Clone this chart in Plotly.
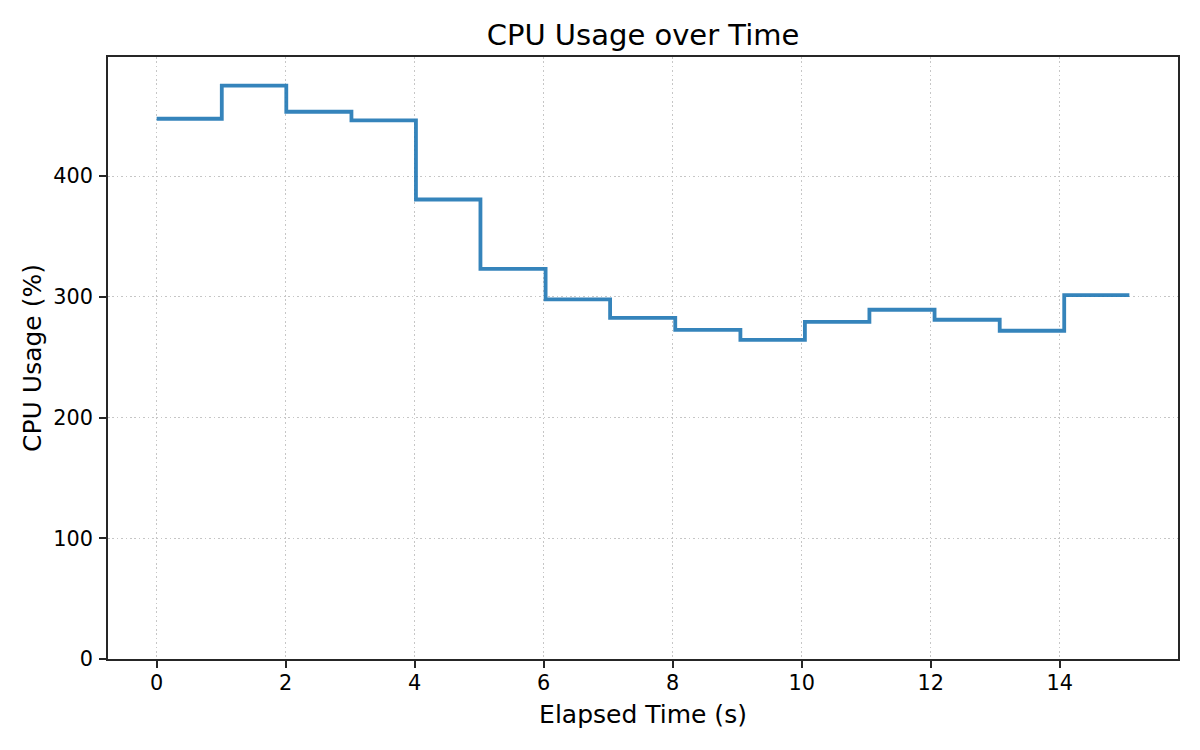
import plotly.graph_objects as go

# elapsed time of each sample (s) and the CPU usage read at that sample (%)
elapsed_s = [0.0, 1.01, 2.01, 3.02, 4.02, 5.02, 6.03, 7.03, 8.04, 9.05,
             10.05, 11.05, 12.06, 13.07, 14.07, 15.08]
cpu_pct = [447.5, 474.9, 453.3, 446.1, 380.6, 323.2, 297.8, 282.6, 272.7, 264.4,
           279.3, 289.3, 281.0, 271.9, 301.4, 301.4]

x_ticks = [0, 2, 4, 6, 8, 10, 12, 14]
y_ticks = [0, 100, 200, 300, 400]

FONT = "DejaVu Sans"
AXIS_COLOR = "#262626"

# matplotlib-like padding: 5% on x, y from 0 up to max*1.05
x_pad = 0.05 * (max(elapsed_s) - min(elapsed_s))
x_range = [min(elapsed_s) - x_pad, max(elapsed_s) + x_pad]
y_range = [0, max(cpu_pct) * 1.05]

trace = go.Scatter(
    x=elapsed_s,
    y=cpu_pct,
    mode='lines',
    line=dict(shape='hv', color='rgba(31,119,180,0.9)', width=3.8),
    showlegend=False
)

fig = go.Figure(data=[trace])

axis_common = dict(
    showline=True,
    linecolor=AXIS_COLOR,
    linewidth=1.6,
    mirror=True,
    ticks='outside',
    ticklen=7,
    tickwidth=1.6,
    tickcolor=AXIS_COLOR,
    tickfont=dict(family=FONT, size=20.8, color='black'),
    showgrid=True,
    gridcolor='#c6c6c6',
    gridwidth=1.3,
    griddash='1.6px,2.8px',
    zeroline=False,
)

# the page body adds an 8px offset, so margins are trimmed to compensate
fig.update_layout(
    width=1200,
    height=750,
    paper_bgcolor='white',
    plot_bgcolor='white',
    margin=dict(l=100, r=30, t=49, b=99),
    title=dict(
        text="CPU Usage over Time",
        font=dict(family=FONT, size=29, color='black'),
        x=635 / 1200,
        xanchor='center',
        y=1 - 27 / 750,
        yanchor='middle',
        yref='container',
    ),
    xaxis=dict(
        axis_common,
        range=x_range,
        tickvals=x_ticks,
        ticklabelstandoff=-3,
        title=dict(text="Elapsed Time (s)", font=dict(family=FONT, size=25, color='black'), standoff=12),
    ),
    yaxis=dict(
        axis_common,
        range=y_range,
        tickvals=y_ticks,
        ticklabelstandoff=2,
        title=dict(text="CPU Usage (%)", font=dict(family=FONT, size=25, color='black'), standoff=5),
    ),
)

fig.write_html("out.html")
